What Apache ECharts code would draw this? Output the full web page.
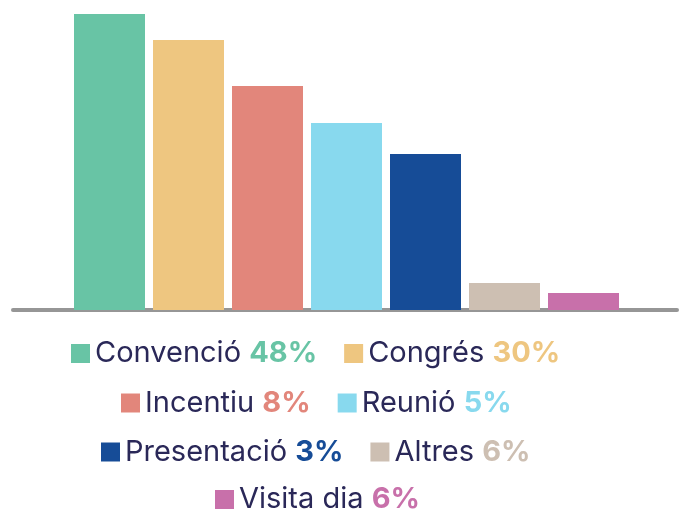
<!DOCTYPE html>
<html><head><meta charset="utf-8">
<script src="https://cdn.jsdelivr.net/npm/echarts@6/dist/echarts.min.js"></script>
<style>html,body{margin:0;padding:0;background:#fff}#c{width:681px;height:510px}</style>
</head><body><div id="c"></div>
<script>
var categories = ['Convenció','Congrés','Incentiu','Reunió','Presentació','Altres','Visita dia'];
var barValues = [296, 270, 224, 187, 156, 27, 17];
var percents = [48, 30, 8, 5, 3, 6, 6];
var colors = ['#68c4a5','#eec680','#e2867b','#88d9ee','#164c97','#cdbfb2','#c870aa'];
var legendRows = [[0,1],[2,3],[4,5],[6]];

var FONT = 'Inter';
var FS = 29;
var textColor = '#2a2858';
var ICON = 19, TEXTGAP = 8, ITEMGAP = 27;
var rowCenters = [353.5, 403, 452, 499.5];
var legendCenterX = 319;

var cv = document.createElement('canvas').getContext('2d');
function measure(i){
  cv.font = FS + 'px ' + FONT;
  var w = cv.measureText(categories[i] + '\u00a0').width;
  cv.font = 'bold ' + FS + 'px ' + FONT;
  w += cv.measureText(percents[i] + '%').width;
  return w;
}

var rich = { n: { fontFamily: FONT, fontSize: FS, color: textColor } };
categories.forEach(function(c,i){
  rich['p'+i] = { fontFamily: FONT, fontSize: FS, fontWeight: 'bold', color: colors[i] };
});

var series = categories.map(function(name,i){
  var d = categories.map(function(){ return null; });
  d[i] = barValues[i];
  return {
    name: name, type: 'bar', stack: 'all', barWidth: 71,
    xAxisIndex: 0, yAxisIndex: 0,
    itemStyle: { color: colors[i] },
    data: d, silent: true
  };
});

var legends = legendRows.map(function(row, r){
  var w = 0;
  row.forEach(function(i, k){ w += ICON + TEXTGAP + measure(i) + (k ? ITEMGAP : 0); });
  return {
    data: row.map(function(i){ return { name: categories[i], icon: 'rect' }; }),
    left: Math.round(legendCenterX - w/2),
    top: rowCenters[r] - 17,
    padding: 0,
    itemWidth: ICON, itemHeight: ICON,
    itemGap: ITEMGAP, itemTextGap: TEXTGAP,
    selectedMode: false,
    textStyle: { rich: rich, lineHeight: 34 },
    formatter: function(name){
      var i = categories.indexOf(name);
      return '{n|' + name + '\u00a0}{p' + i + '|' + percents[i] + '%}';
    }
  };
});

var chart = echarts.init(document.getElementById('c'), null, {renderer:'canvas'});
chart.setOption({
  animation: false,
  backgroundColor: '#ffffff',
  grid: [
    { left: 70, width: 553, top: 10, bottom: 200 },
    { left: 13, right: 4, top: 10, bottom: 200 }
  ],
  xAxis: [
    { type: 'category', data: categories, gridIndex: 0, axisLine: {show:false}, axisTick:{show:false}, axisLabel:{show:false} },
    { type: 'category', data: [''], gridIndex: 1, axisLine: { show: true, lineStyle: { color: '#969696', width: 4, cap: 'round' } }, axisTick:{show:false}, axisLabel:{show:false} }
  ],
  yAxis: [
    { type: 'value', min: 0, max: 300, gridIndex: 0, show: false },
    { type: 'value', min: 0, max: 300, gridIndex: 1, show: false }
  ],
  legend: legends,
  series: series
});
</script></body></html>
